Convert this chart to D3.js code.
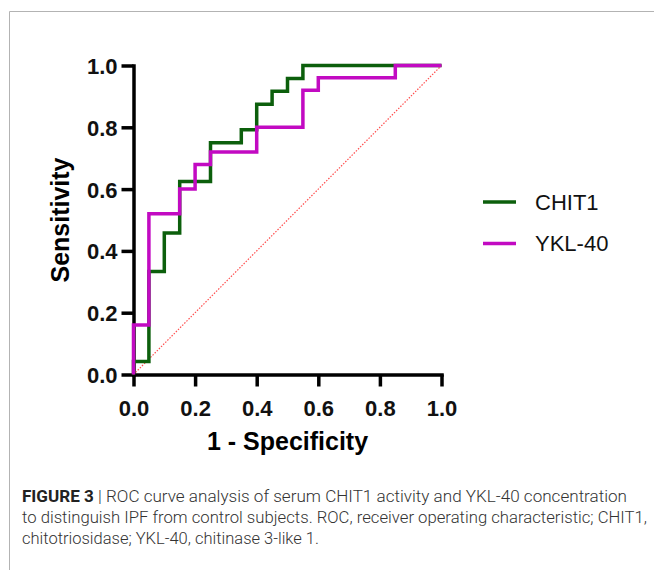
<!DOCTYPE html>
<html>
<head>
<meta charset="utf-8">
<script src="https://cdn.jsdelivr.net/npm/d3@7"></script>
<style>
  body { margin: 0; background: #fff; }
  .tick text { font-family: "Liberation Sans", Arial, sans-serif; font-weight: bold; font-size: 22px; fill: #111; }
</style>
</head>
<body>
<div id="container"></div>
<script>
// ROC corner points: at each false positive rate, the sensitivity reached
var chitFpr = [0, 0, 0.05, 0.10, 0.15, 0.25, 0.35, 0.40, 0.45, 0.50, 0.55, 1.0];
var chitTpr = [0, 0.042, 0.333, 0.458, 0.625, 0.750, 0.792, 0.875, 0.917, 0.958, 1.0, 1.0];
var yklFpr = [0, 0, 0.05, 0.15, 0.20, 0.25, 0.40, 0.55, 0.60, 0.85, 1.0];
var yklTpr = [0, 0.16, 0.52, 0.60, 0.68, 0.72, 0.80, 0.92, 0.96, 1.0, 1.0];
var seriesNames = ["CHIT1", "YKL-40"];
var tickValues = [0, 0.2, 0.4, 0.6, 0.8, 1.0];
var captionLines = [
  ["FIGURE 3", " | ROC curve analysis of serum CHIT1 activity and YKL-40 concentration"],
  ["", "to distinguish IPF from control subjects. ROC, receiver operating characteristic; CHIT1,"],
  ["", "chitotriosidase; YKL-40, chitinase 3-like 1."]
];

var W = 654, H = 570;
var colors = ["#0c5f0c", "#c20ac2"];

var svg = d3.select("#container").append("svg")
    .attr("width", W)
    .attr("height", H);

// frame of the figure panel
svg.append("path")
    .attr("d", "M9.5," + H + "V11.5H" + W)
    .attr("fill", "none")
    .attr("stroke", "#b3b3b3")
    .attr("stroke-width", 1);

var x = d3.scaleLinear().domain([0, 1]).range([133.5, 441.5]);
var y = d3.scaleLinear().domain([0, 1]).range([374.5, 65.5]);

// x axis
var gx = svg.append("g")
    .attr("transform", "translate(0," + y(0) + ")")
    .call(d3.axisBottom(x).tickValues(tickValues).tickFormat(d3.format(".1f")).tickSize(12).tickSizeOuter(0).tickPadding(10));

// y axis
var gy = svg.append("g")
    .attr("transform", "translate(" + x(0) + ",0)")
    .call(d3.axisLeft(y).tickValues(tickValues).tickFormat(d3.format(".1f")).tickSize(12).tickSizeOuter(0).tickPadding(4));

[gx, gy].forEach(function(g) {
  g.select(".domain").attr("stroke", "#000").attr("stroke-width", 3.5).attr("stroke-linecap", "square");
  g.selectAll(".tick line").attr("stroke", "#000").attr("stroke-width", 3.5);
});
gx.selectAll(".tick text").attr("dy", "0.88em");
gy.selectAll(".tick text").attr("dy", "0.36em");

// axis titles
svg.append("text")
    .attr("x", (x(0) + x(1)) / 2)
    .attr("y", 450)
    .attr("text-anchor", "middle")
    .style("font-family", "Liberation Sans, Arial, sans-serif")
    .style("font-weight", "bold")
    .style("font-size", "25px")
    .text("1 - Specificity");

svg.append("text")
    .attr("transform", "translate(69," + (y(0) + y(1)) / 2 + ") rotate(-90)")
    .attr("text-anchor", "middle")
    .style("font-family", "Liberation Sans, Arial, sans-serif")
    .style("font-weight", "bold")
    .style("font-size", "25px")
    .text("Sensitivity");

// chance line
svg.append("line")
    .attr("x1", x(0)).attr("y1", y(0))
    .attr("x2", x(1)).attr("y2", y(1))
    .attr("stroke", "#ff4d4d")
    .attr("stroke-width", 1.2)
    .attr("stroke-dasharray", "1.5,1.5");

// ROC step curves
var line = d3.line()
    .x(function(d) { return x(d[0]); })
    .y(function(d) { return y(d[1]); })
    .curve(d3.curveStepAfter);

var curves = [d3.zip(chitFpr, chitTpr), d3.zip(yklFpr, yklTpr)];

svg.selectAll("path.roc")
    .data(curves)
    .enter().append("path")
    .attr("class", "roc")
    .attr("d", line)
    .attr("fill", "none")
    .attr("stroke", function(d, i) { return colors[i]; })
    .attr("stroke-width", 3.5)
    .attr("stroke-linejoin", "miter");

// legend
var legend = svg.selectAll("g.legend")
    .data(seriesNames)
    .enter().append("g")
    .attr("class", "legend")
    .attr("transform", function(d, i) { return "translate(483," + (202 + i * 41.5) + ")"; });

legend.append("line")
    .attr("x1", 0).attr("x2", 33)
    .attr("stroke", function(d, i) { return colors[i]; })
    .attr("stroke-width", 3.5);

legend.append("text")
    .attr("x", 52)
    .attr("dy", "0.36em")
    .style("font-family", "Liberation Sans, Arial, sans-serif")
    .style("font-size", "22px")
    .style("fill", "#111")
    .text(function(d) { return d; });

// caption
var cap = svg.selectAll("text.caption")
    .data(captionLines)
    .enter().append("text")
    .attr("class", "caption")
    .attr("x", 22)
    .attr("y", function(d, i) { return 502 + i * 21; })
    .style("font-family", "Roboto, Liberation Sans, sans-serif")
    .style("font-size", "16.5px")
    .style("font-weight", 300)
    .style("fill", "#333");

cap.append("tspan")
    .style("font-weight", "bold")
    .style("fill", "#222")
    .text(function(d) { return d[0]; });
cap.append("tspan")
    .text(function(d) { return d[1]; });

// fit the two full lines to the justified width
var targets = [605, 625];
cap.each(function(d, i) {
  if (i < 2) {
    var w = this.getComputedTextLength();
    if (Math.abs(w - targets[i]) > 2) d3.select(this).attr("textLength", targets[i]).attr("lengthAdjust", "spacingAndGlyphs");
  }
});
</script>
</body>
</html>
